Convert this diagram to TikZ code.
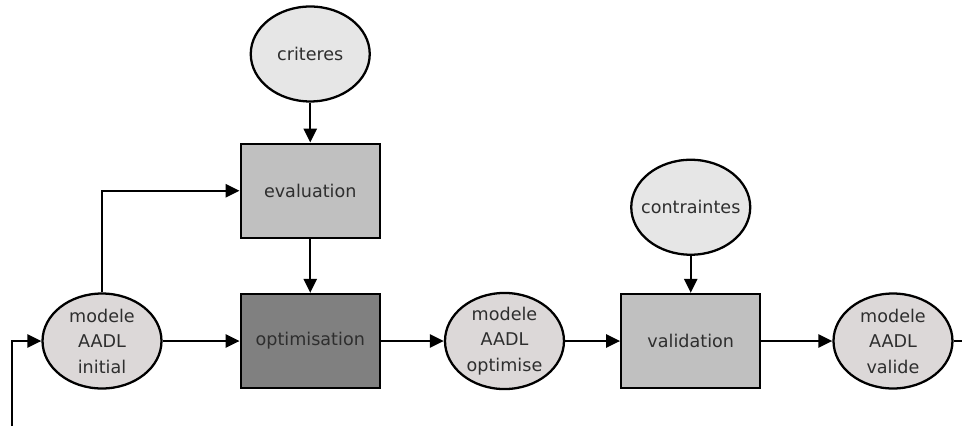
\documentclass[tikz,border=0pt]{standalone}
\usepackage{fontspec}
\setmainfont{DejaVu Sans}
\usetikzlibrary{arrows.meta,positioning,shapes.geometric}
\definecolor{modelefill}{HTML}{DCD8D8}
\definecolor{entreefill}{HTML}{E6E6E6}
\definecolor{etapefill}{HTML}{C0C0C0}
\definecolor{optimfill}{HTML}{808080}
\definecolor{texte}{HTML}{2E2E2E}
\tikzset{
  %Define standard arrow tip
  >={Triangle[length=8pt,width=7.5pt]},
  %Define style for boxes
  etape/.style={
    rectangle,
    draw=black, line width=1.3pt,
    fill=etapefill,
    minimum width=2.78cm,
    minimum height=1.88cm,
    text=texte},
  %Define style for models and inputs
  modele/.style={
    ellipse,
    draw=black, line width=1.3pt,
    fill=modelefill,
    inner sep=0pt,
    minimum width=2.38cm,
    minimum height=1.9cm,
    align=center,
    text=texte,
    font=\fontsize{10}{14.5}\selectfont},
  entree/.style={
    modele,
    inner xsep=-4.5pt,
    fill=entreefill},
  % Define arrow style
  fleche/.style={
    ->,
    line width=1.3pt}
}
\begin{document}
\begin{tikzpicture}[x=0.02cm,y=-0.02cm,font=\fontsize{10}{12}\selectfont]
  \useasboundingbox (0,0) rectangle (962,426);
  % main chain
  \node[modele] (initial) at (102,341) {modele\\AADL\\initial};
  \node[etape, fill=optimfill, right=1.54cm of initial] (optimisation) {optimisation};
  \node[modele, right=1.26cm of optimisation] (optimise) {modele\\AADL\\optimise};
  \node[etape, right=1.1cm of optimise] (validation) {validation};
  \node[modele, right=1.42cm of validation] (valide) {modele\\AADL\\valide};
  % evaluation branch
  \node[etape, above=1.08cm of optimisation] (evaluation) {evaluation};
  \node[entree, above=0.8cm of evaluation] (criteres) {criteres};
  \node[entree, above=0.74cm of validation] (contraintes) {contraintes};
  % free ends
  \coordinate (retour) at (12,426);
  \coordinate (sortie) at (962,341);
  \path[fleche]
    (initial) edge (optimisation)
    (optimisation) edge (optimise)
    (optimise) edge (validation)
    (validation) edge (valide)
    (criteres) edge (evaluation)
    (evaluation) edge (optimisation)
    (contraintes) edge (validation)
    ;
  \draw[fleche] (retour) |- (initial);
  \draw[fleche] (initial.north) |- (evaluation.west);
  \draw[line width=1.3pt] (valide) -- (sortie);
\end{tikzpicture}
\end{document}
